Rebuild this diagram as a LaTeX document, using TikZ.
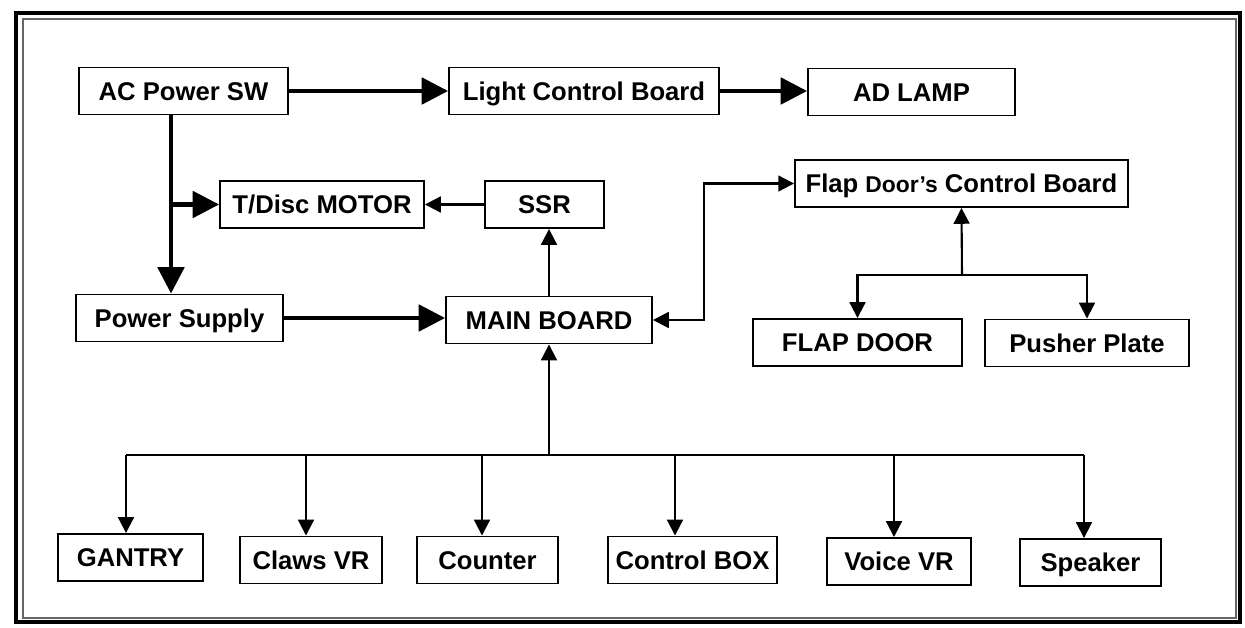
\documentclass[tikz,border=0pt]{standalone}
\usepackage{fontspec}
\setmainfont{Liberation Sans}
\usetikzlibrary{arrows.meta}

\begin{document}
\begin{tikzpicture}[
    x=0.02cm, y=-0.02cm,
    font=\fontsize{14.6}{17}\selectfont\bfseries,
    box/.style={draw, rectangle, line width=1.1pt, inner sep=0pt, minimum height=0.94cm,
        text height=10.4pt, text depth=0pt, align=center},
    heavy/.style={line width=2.3pt, -{Triangle[length=15pt, width=15pt]}},
    thinline/.style={line width=1.2pt, -{Triangle[length=9pt, width=9pt]}}
]
    \useasboundingbox (0,0) rectangle (1245,628);

    % Outer frame
    \draw[line width=2.3pt] (16,13) rectangle (1240,622);
    \draw[line width=0.6pt, black!60] (23,19) rectangle (1236,618);

    % Top row
    \node[box, minimum width=4.18cm] (acsw) at (183.5,91) {AC Power SW};
    \node[box, minimum width=5.40cm] (lightcb) at (584,91) {Light Control Board};
    \node[box, minimum width=4.14cm] (lamp) at (911.5,92) {AD LAMP};
    \draw[heavy] (acsw.east) -- (acsw.east -| lightcb.west);
    \draw[heavy] (lightcb.east) -- (lightcb.east -| lamp.west);

    % Motor and SSR
    \node[box, minimum width=4.08cm] (tdisc) at (322,204.5) {T/Disc MOTOR};
    \node[box, minimum width=2.38cm] (ssr) at (544.5,204.5) {SSR};
    \draw[thinline] (ssr.west) -- (tdisc.east);

    % Power path
    \node[box, minimum width=4.14cm] (psu) at (179.5,318) {Power Supply};
    \node[box, minimum width=4.12cm] (mainb) at (549,320) {MAIN BOARD};
    \coordinate (acdrop) at (171,204.5);
    \draw[heavy] (171,0 |- acsw.south) -- (171,0 |- psu.north);
    \draw[heavy] (acdrop) -- (tdisc.west);
    \draw[heavy] (psu.east) -- (psu.east -| mainb.west);
    \draw[thinline] (mainb.north) -- (mainb.north |- ssr.south);

    % Flap door
    \node[box, minimum width=6.66cm] (flapctrl) at (961.5,183.5)
        {Flap {\fontsize{13}{15}\selectfont Door's} Control Board};
    \node[box, minimum width=4.18cm] (flapdoor) at (857.5,342.5) {FLAP DOOR};
    \node[box, minimum width=4.08cm] (pusher) at (1087,343) {Pusher Plate};
    \coordinate (fdbend) at (704,183.5);
    \draw[thinline, {Triangle[length=9pt, width=9pt]}-{Triangle[length=9pt, width=9pt]}]
        (mainb.east) -| (fdbend) -- (flapctrl.west);
    \coordinate (fdsplit) at (962,275);
    \draw[thinline] (fdsplit) -- (flapctrl.south);
    \draw[thinline] (fdsplit) -| (flapdoor.north);
    \draw[thinline] (fdsplit) -| (pusher.north);

    % Bottom row
    \node[box, minimum width=2.90cm] (gantry) at (130.5,557.5) {GANTRY};
    \node[box, minimum width=2.84cm] (claws) at (311,560) {Claws VR};
    \node[box, minimum width=2.82cm] (counter) at (487.5,560) {Counter};
    \node[box, minimum width=3.38cm] (ctrlbox) at (692.5,560) {Control BOX};
    \node[box, minimum width=2.88cm] (voice) at (899,561.5) {Voice VR};
    \node[box, minimum width=2.82cm] (speaker) at (1090.5,562.5) {Speaker};
    \coordinate (bus) at (549,455);
    \draw[thinline] (bus) -- (mainb.south);
    \draw[line width=1.2pt] (126,455) -- (1084,455);
    \foreach \n/\x in {gantry/126, claws/306, counter/482, ctrlbox/675, voice/894, speaker/1084}
        \draw[thinline] (\x,455) -- (\x,0 |- \n.north);

\end{tikzpicture}
\end{document}
